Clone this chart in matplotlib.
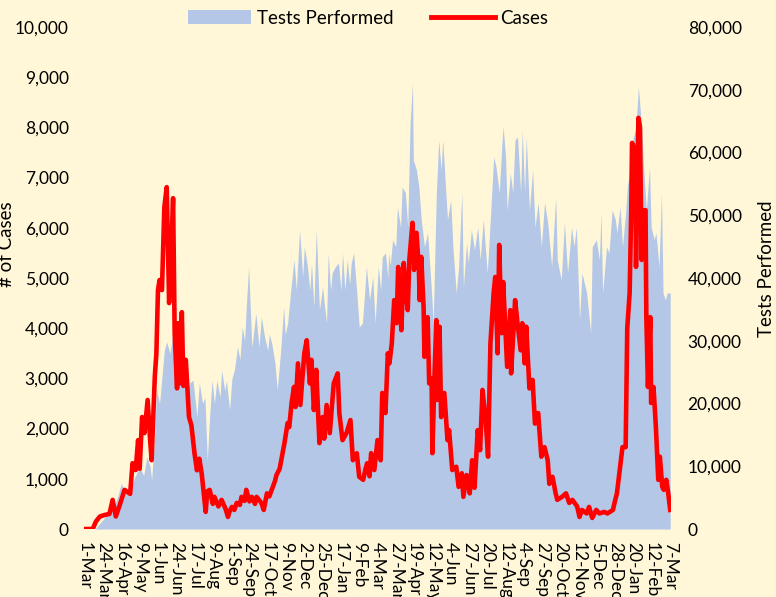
import numpy as np
import pandas as pd
import matplotlib
matplotlib.use('Agg')
import matplotlib.pyplot as plt
from matplotlib.patches import Patch
from matplotlib.lines import Line2D
from matplotlib.ticker import FuncFormatter

plt.rcParams['font.family'] = ['Lato', 'DejaVu Sans']

start_date = pd.Timestamp('2020-03-01')

# days since 1-Mar-2020, daily cases (left axis)
case_days = [0, 10, 14, 19, 25, 31, 35, 39, 44, 50, 57, 60, 64, 67, 69, 72, 75, 79, 82, 84,
             88, 90, 92, 94, 97, 100, 103, 106, 108, 111, 113, 116, 117, 119, 122, 124, 127, 131, 134, 138,
             141, 144, 147, 149, 152, 154, 157, 161, 163, 168, 172, 177, 180, 182, 185, 188, 191, 195, 197, 201,
             203, 207, 210, 214, 216, 220, 222, 225, 229, 232, 235, 239, 241, 245, 247, 251, 255, 257, 260, 263,
             265, 268, 271, 276, 279, 283, 285, 288, 291, 295, 299, 301, 304, 308, 313, 318, 320, 324, 329, 334,
             337, 342, 345, 350, 353, 355, 358, 360, 364, 368, 372, 374, 378, 381, 383, 386, 389, 392, 394, 396,
             398, 401, 403, 406, 408, 412, 414, 417, 420, 421, 423, 426, 427, 431, 433, 436, 437, 440, 442, 443,
             446, 448, 452, 456, 458, 462, 467, 470, 474, 476, 480, 484, 487, 490, 494, 497, 500, 504, 507, 510,
             514, 516, 519, 521, 524, 526, 529, 531, 535, 536, 541, 544, 548, 550, 553, 555, 559, 563, 566, 570,
             574, 578, 582, 584, 588, 592, 594, 600, 605, 609, 613, 619, 622, 625, 631, 634, 638, 643, 647, 653,
             657, 661, 664, 666, 669, 673, 676, 680, 682, 685, 687, 688, 692, 693, 696, 698, 700, 702, 705, 706,
             708, 711, 712, 715, 718, 721, 723, 726, 728, 731, 733, 736]
cases = [0, 0, 150, 250, 280, 300, 580, 250, 480, 780, 700, 1310, 1175, 1770, 1200, 2230, 1910, 2570, 1800, 1370,
         3030, 3500, 4760, 4960, 4760, 6410, 6810, 4500, 5200, 6590, 3900, 2800, 4100, 2900, 4320, 2850, 3370, 2230, 2070, 1500,
         1170, 1400, 1100, 800, 340, 750, 780, 500, 640, 450, 580, 400, 240, 350, 440, 380, 520, 480, 640, 560,
         780, 550, 640, 500, 640, 560, 520, 380, 710, 650, 780, 950, 1075, 1200, 1370, 1710, 2110, 2030, 2510, 2830,
         2430, 3300, 2470, 3500, 3760, 2900, 3370, 2370, 3170, 1710, 2230, 1800, 2470, 1910, 2900, 3100, 2310, 1770, 1910, 2170,
         1370, 1510, 1040, 980, 1200, 1310, 1050, 1510, 1175, 1770, 1370, 2710, 2310, 3500, 3300, 3700, 4560, 4100, 5220, 4500,
         3960, 5300, 4800, 4360, 5360, 6100, 5160, 5900, 5200, 4560, 5420, 4400, 3430, 4220, 2900, 3000, 1510, 3230, 4160, 2570,
         4030, 2230, 2710, 1770, 1970, 1175, 1240, 840, 1110, 640, 1075, 710, 1370, 820, 1970, 1570, 2770, 2170, 1440, 3700,
         4700, 5020, 3500, 5660, 3900, 4920, 3900, 3230, 4360, 3100, 4560, 4100, 3560, 4100, 3300, 4030, 2800, 2970, 2100, 2310,
         1440, 1630, 1370, 900, 1040, 710, 580, 640, 710, 520, 580, 450, 240, 380, 310, 440, 220, 380, 310, 340,
         310, 350, 380, 520, 710, 1240, 1630, 1630, 4000, 4700, 6350, 7690, 7550, 5220, 8190, 8010, 5360, 6350, 6350, 4220,
         2830, 4220, 2510, 2830, 2030, 980, 1440, 840, 780, 980, 780, 380]

# days since 1-Mar-2020, tests performed (right axis)
test_days = [0, 13, 15, 23, 29, 35, 41, 46, 51, 57, 63, 69, 74, 78, 82, 84, 88, 90, 94, 97,
             100, 103, 107, 111, 113, 116, 119, 123, 128, 132, 136, 141, 144, 148, 151, 154, 157, 160, 163, 166,
             170, 172, 176, 178, 182, 185, 188, 192, 195, 198, 201, 203, 206, 210, 212, 215, 219, 222, 226, 230,
             232, 235, 239, 242, 246, 250, 252, 255, 259, 263, 266, 270, 274, 276, 280, 283, 285, 288, 291, 295,
             299, 301, 304, 306, 309, 311, 315, 319, 322, 324, 327, 330, 333, 335, 338, 342, 345, 349, 352, 354,
             358, 362, 365, 369, 372, 374, 378, 381, 382, 384, 387, 391, 393, 397, 399, 403, 406, 409, 412, 413,
             417, 420, 423, 427, 431, 436, 438, 442, 445, 448, 450, 453, 456, 460, 463, 467, 470, 474, 476, 480,
             482, 486, 490, 494, 497, 501, 506, 510, 514, 517, 521, 525, 526, 529, 531, 535, 538, 541, 544, 548,
             550, 553, 555, 559, 563, 566, 570, 574, 578, 582, 587, 592, 594, 599, 603, 607, 612, 615, 618, 622,
             625, 631, 636, 638, 643, 647, 649, 651, 656, 659, 663, 667, 669, 673, 676, 680, 682, 686, 688, 693,
             696, 700, 702, 706, 710, 712, 716, 718, 722, 725, 727, 730, 732, 735, 736]
tests = [0, 0, 300, 1500, 2500, 3000, 5000, 7300, 5500, 6200, 8300, 9900, 8500, 11500, 10000, 7800, 15000, 22200, 20000, 24200,
         28500, 29800, 28000, 31200, 27000, 21700, 25300, 24200, 21700, 23300, 23700, 17900, 23300, 20000, 21000, 11000, 18000, 23700, 20000, 23700,
         21000, 25300, 22000, 23700, 19000, 24000, 25300, 29000, 27000, 32200, 30000, 35400, 41800, 29000, 31000, 34400, 29000, 33800, 30600, 28500,
         31000, 29600, 26500, 22200, 28000, 35400, 31000, 32800, 38100, 42900, 38100, 47700, 40200, 45000, 41800, 38000, 42400, 35400, 47700, 34900,
         38600, 36000, 32800, 44000, 38000, 40800, 41800, 42400, 38000, 44000, 38100, 42900, 39000, 42400, 44000, 37600, 32200, 32800, 38000, 41800,
         36500, 40200, 32800, 41800, 38000, 43400, 44000, 40000, 44000, 42000, 46100, 45000, 51300, 48100, 54500, 53600, 48100, 64700, 71100, 58800,
         57200, 54500, 49300, 45000, 47200, 37600, 32800, 53600, 62000, 57200, 62000, 55600, 49300, 52400, 44500, 37600, 41800, 53600, 38600, 45600,
         42400, 47700, 44500, 48100, 42900, 49300, 40800, 49700, 59300, 57700, 53600, 62500, 64100, 59300, 50800, 56700, 53600, 62000, 62500, 53600,
         63600, 53600, 62500, 50800, 57200, 48100, 52000, 45000, 52000, 48800, 41800, 52900, 42900, 39700, 48800, 40800, 48100, 45000, 48100, 33300,
         40800, 37600, 31200, 45000, 46100, 42900, 50400, 37600, 45000, 44000, 50800, 49300, 47200, 51300, 45000, 50400, 54500, 57700, 61500, 64100,
         70500, 64100, 58800, 50800, 57700, 48100, 46100, 47200, 41800, 53600, 37600, 36500, 37600, 37600, 37600]

tick_days = list(range(0, 737, 23))
tick_labels = [f"{d.day}-{d.strftime('%b')}" for d in (start_date + pd.to_timedelta(tick_days, unit='D'))]

bg = '#FFF7D7'
fig = plt.figure(figsize=(7.76, 5.97), dpi=100, facecolor=bg)
ax = fig.add_axes([84/776, 1 - 529/597, (671 - 84)/776, (529 - 27)/597])
ax2 = ax.twinx()

ax2.fill_between(test_days, tests, 0, color='#B4C7E7', linewidth=0)
ax.plot(case_days, cases, color='#FF0000', linewidth=3.3, solid_joinstyle='round')

ax.set_zorder(ax2.get_zorder() + 1)
ax.patch.set_visible(False)
ax2.set_facecolor(bg)

ax.set_xlim(-1, 737)
ax.set_ylim(0, 10000)
ax2.set_ylim(0, 80000)
ax.set_yticks(np.arange(0, 10001, 1000))
ax2.set_yticks(np.arange(0, 80001, 10000))
fmt = FuncFormatter(lambda v, p: f'{int(v):,}')
ax.yaxis.set_major_formatter(fmt)
ax2.yaxis.set_major_formatter(fmt)
ax.set_xticks(tick_days)
ax.set_xticklabels(tick_labels, rotation=-90, va='top', ha='center')

for a in (ax, ax2):
    for s in a.spines.values():
        s.set_visible(False)
    a.tick_params(length=0, labelsize=12.5, colors='black')
ax.tick_params(axis='y', pad=11)
ax2.tick_params(axis='y', pad=12)
ax.tick_params(axis='x', pad=9)

fig.text(0.008, 1 - 244/597, '# of Cases', rotation=90, ha='center', va='center', fontsize=13.5)
fig.text(767/776, 1 - 269/597, 'Tests Performed', rotation=90, ha='center', va='center', fontsize=13.5)

handles = [Patch(facecolor='#B4C7E7', edgecolor='none'),
           Line2D([0], [0], color='#FF0000', linewidth=3.5)]
fig.legend(handles, ['Tests Performed', 'Cases'], loc='center', bbox_to_anchor=(368/776, 1 - 18/597),
           ncol=2, frameon=False, fontsize=13.5, handlelength=3.4, columnspacing=2.0, handletextpad=0.3)

plt.savefig('out.png', dpi=100, facecolor=bg)
